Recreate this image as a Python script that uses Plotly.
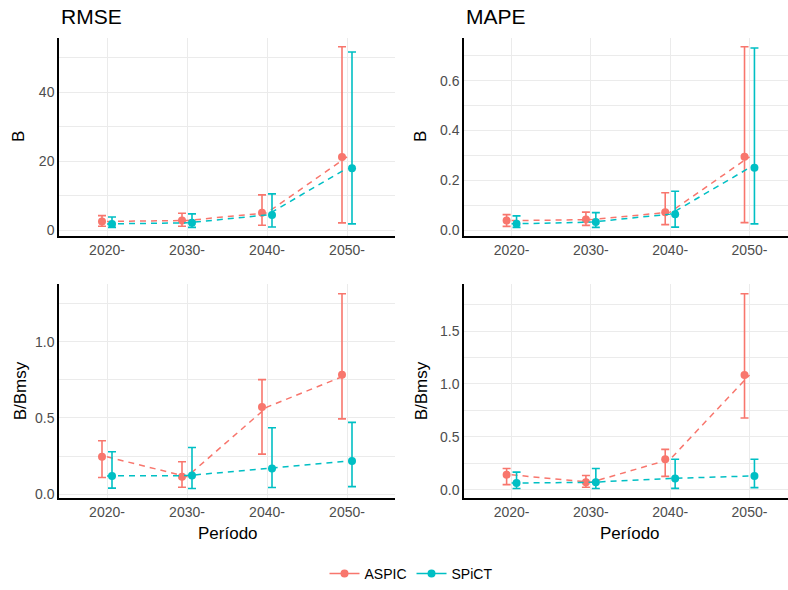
import plotly.graph_objects as go

# ---------------- data ----------------
periods = ["2020-", "2030-", "2040-", "2050-"]
models = ["ASPIC", "SPiCT"]

# RMSE of B
rmse_b_aspic = [2.6, 2.9, 5.1, 21.3]
rmse_b_aspic_lo = [1.2, 1.2, 1.5, 2.2]
rmse_b_aspic_hi = [4.3, 5.0, 10.3, 53.2]
rmse_b_spict = [1.9, 2.2, 4.5, 18.0]
rmse_b_spict_lo = [0.9, 0.9, 1.0, 1.9]
rmse_b_spict_hi = [3.9, 4.8, 10.6, 51.7]

# MAPE of B
mape_b_aspic = [0.039, 0.043, 0.073, 0.295]
mape_b_aspic_lo = [0.016, 0.020, 0.023, 0.031]
mape_b_aspic_hi = [0.063, 0.073, 0.151, 0.736]
mape_b_spict = [0.026, 0.033, 0.065, 0.251]
mape_b_spict_lo = [0.012, 0.012, 0.013, 0.026]
mape_b_spict_hi = [0.058, 0.071, 0.157, 0.731]

# RMSE of B/Bmsy
rmse_bb_aspic = [0.245, 0.115, 0.571, 0.783]
rmse_bb_aspic_lo = [0.110, 0.046, 0.263, 0.494]
rmse_bb_aspic_hi = [0.350, 0.213, 0.751, 1.314]
rmse_bb_spict = [0.120, 0.122, 0.169, 0.217]
rmse_bb_spict_lo = [0.040, 0.037, 0.044, 0.050]
rmse_bb_spict_hi = [0.278, 0.306, 0.436, 0.471]

# MAPE of B/Bmsy
mape_bb_aspic = [0.140, 0.069, 0.287, 1.084]
mape_bb_aspic_lo = [0.047, 0.022, 0.125, 0.678]
mape_bb_aspic_hi = [0.200, 0.134, 0.381, 1.852]
mape_bb_spict = [0.062, 0.069, 0.106, 0.128]
mape_bb_spict_lo = [0.010, 0.010, 0.012, 0.019]
mape_bb_spict_hi = [0.165, 0.200, 0.287, 0.287]

panel_titles = ["RMSE", "MAPE"]
y_titles = ["B", "B", "B/Bmsy", "B/Bmsy"]
x_title = "Período"

# ---------------- style ----------------
W, H = 788, 590
colors = {"ASPIC": "#F8766D", "SPiCT": "#00BFC4"}
dodge = 0.0625
grid_col = "#EBEBEB"
tick_col = "#4D4D4D"
FONT = "Liberation Sans, Arial, Helvetica, sans-serif"

panels = [
    dict(a=(rmse_b_aspic, rmse_b_aspic_lo, rmse_b_aspic_hi),
         s=(rmse_b_spict, rmse_b_spict_lo, rmse_b_spict_hi),
         dtick=20, fmt="d", xd=(59, 395), yd=(38, 238), xr_hi=4.6),
    dict(a=(mape_b_aspic, mape_b_aspic_lo, mape_b_aspic_hi),
         s=(mape_b_spict, mape_b_spict_lo, mape_b_spict_hi),
         dtick=0.2, fmt=".1f", xd=(464, 788), yd=(38, 238), xr_hi=0.4 + (788 - 464) / 79.3),
    dict(a=(rmse_bb_aspic, rmse_bb_aspic_lo, rmse_bb_aspic_hi),
         s=(rmse_bb_spict, rmse_bb_spict_lo, rmse_bb_spict_hi),
         dtick=0.5, fmt=".1f", xd=(59, 395), yd=(286, 501.7), xr_hi=4.6),
    dict(a=(mape_bb_aspic, mape_bb_aspic_lo, mape_bb_aspic_hi),
         s=(mape_bb_spict, mape_bb_spict_lo, mape_bb_spict_hi),
         dtick=0.5, fmt=".1f", xd=(464, 788), yd=(286, 501.7), xr_hi=0.4 + (788 - 464) / 79.3),
]

fig = go.Figure()
xc = list(range(1, len(periods) + 1))

for i, p in enumerate(panels):
    k = "" if i == 0 else str(i + 1)
    xa, ya = "x" + k, "y" + k
    for m, off in (("ASPIC", -dodge), ("SPiCT", dodge)):
        vals, lo, hi = p["a"] if m == "ASPIC" else p["s"]
        col = colors[m]
        # dashed connecting line at category centre
        fig.add_trace(go.Scatter(
            x=xc, y=vals, mode="lines", xaxis=xa, yaxis=ya,
            line=dict(color=col, width=1.5, dash="6px,5px"),
            showlegend=False, hoverinfo="skip"))
        # dodged points with error bars
        fig.add_trace(go.Scatter(
            x=[v + off for v in xc], y=vals, mode="markers", xaxis=xa, yaxis=ya,
            marker=dict(color=col, size=8),
            error_y=dict(type="data", symmetric=False,
                         array=[h - v for h, v in zip(hi, vals)],
                         arrayminus=[v - l for v, l in zip(vals, lo)],
                         color=col, thickness=1.6, width=4),
            showlegend=False, name=m))
    allv = list(p["a"][1]) + list(p["a"][2]) + list(p["s"][1]) + list(p["s"][2])
    lo_, hi_ = min(allv), max(allv)
    pad = 0.05 * (hi_ - lo_)
    fig.layout["xaxis" + k] = dict(
        domain=[p["xd"][0] / W, min(1.0, p["xd"][1] / W)],
        range=[0.4, p["xr_hi"]], anchor=ya,
        tickvals=xc, ticktext=periods,
        showgrid=True, gridcolor=grid_col, gridwidth=1.3,
        showline=True, linecolor="black", linewidth=1.5,
        ticks="", zeroline=False,
        tickfont=dict(size=14, color=tick_col, family=FONT),
        fixedrange=True)
    fig.layout["yaxis" + k] = dict(
        domain=[1 - p["yd"][1] / H, 1 - p["yd"][0] / H],
        range=[lo_ - pad, hi_ + pad], anchor=xa,
        tick0=0, dtick=p["dtick"], tickformat=p["fmt"],
        showgrid=True, gridcolor=grid_col, gridwidth=1.3,
        minor=dict(dtick=p["dtick"] / 2, tick0=0, showgrid=True,
                   gridcolor=grid_col, gridwidth=0.7, ticks=""),
        showline=True, linecolor="black", linewidth=1.5,
        ticks="", zeroline=False,
        tickfont=dict(size=14, color=tick_col, family=FONT),
        fixedrange=True)

# legend-only entries
for m in models:
    fig.add_trace(go.Scatter(
        x=[None], y=[None], mode="lines+markers", name=m,
        line=dict(color=colors[m], width=1.5),
        marker=dict(color=colors[m], size=8)))

ann = []
# panel titles
for t, x in zip(panel_titles, (59, 464)):
    ann.append(dict(text=t, x=x / W, y=1 - 17 / H, xref="paper", yref="paper",
                    xanchor="left", yanchor="middle", showarrow=False,
                    font=dict(size=21, color="black", family=FONT)))
# y titles
for t, x, y in zip(y_titles, (18, 420, 20, 421), (138, 138, 394, 394)):
    ann.append(dict(text=t, x=x / W, y=1 - y / H, xref="paper", yref="paper",
                    xanchor="center", yanchor="middle", textangle=-90,
                    showarrow=False, font=dict(size=17, color="black", family=FONT)))
# x titles
for x in (228, 630):
    ann.append(dict(text=x_title, x=x / W, y=1 - 537 / H, xref="paper", yref="paper",
                    xanchor="center", yanchor="middle", showarrow=False,
                    font=dict(size=17, color="black", family=FONT)))

fig.update_layout(
    width=W, height=H,
    margin=dict(l=0, r=0, t=0, b=0),
    paper_bgcolor="white", plot_bgcolor="white",
    font=dict(family=FONT),
    annotations=ann,
    showlegend=True,
    legend=dict(orientation="h", x=411 / W, y=1 - 578 / H,
                xanchor="center", yanchor="middle",
                font=dict(size=14, color="black", family=FONT),
                itemwidth=30, tracegroupgap=0),
)

fig.write_html("out.html")
